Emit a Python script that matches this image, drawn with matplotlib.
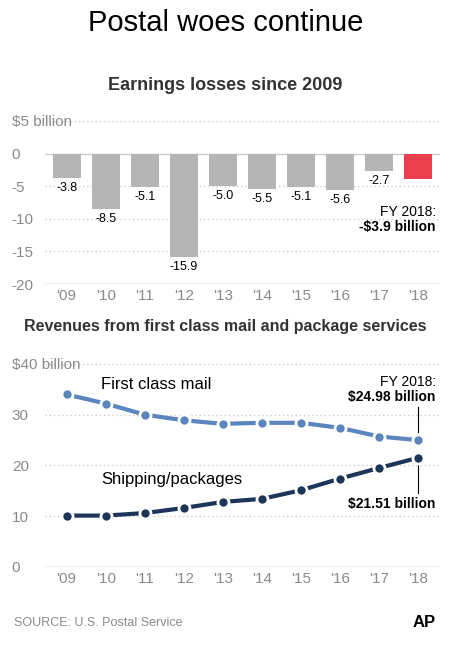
import matplotlib
matplotlib.use("Agg")
import matplotlib.pyplot as plt

plt.rcParams['font.family'] = ['Liberation Sans', 'DejaVu Sans']

years = ["'09", "'10", "'11", "'12", "'13", "'14", "'15", "'16", "'17", "'18"]
losses = [-3.8, -8.5, -5.1, -15.9, -5.0, -5.5, -5.1, -5.6, -2.7, -3.9]
first_class = [34.0, 32.2, 30.0, 28.9, 28.2, 28.4, 28.4, 27.4, 25.7, 24.98]
shipping = [10.1, 10.1, 10.6, 11.6, 12.8, 13.4, 15.1, 17.4, 19.5, 21.51]

GRAY = "#8a8a8a"
fig = plt.figure(figsize=(4.51, 6.5), dpi=100)
fig.text(0.5, 0.965, "Postal woes continue", ha="center", va="center", fontsize=21)
fig.text(0.5, 0.869, "Earnings losses since 2009", ha="center", va="center",
         fontsize=13, fontweight="bold", color="#333333")
fig.text(0.5, 0.497, "Revenues from first class mail and package services", ha="center",
         va="center", fontsize=11.5, fontweight="bold", color="#333333")
fig.text(0.03, 0.042, "SOURCE: U.S. Postal Service", ha="left", va="center", fontsize=9, color=GRAY)
fig.text(0.965, 0.042, "AP", ha="right", va="center", fontsize=12, fontweight="bold")

x = range(len(years))

# bar chart
ax = fig.add_axes([0.10, 0.563, 0.875, 0.251])
colors = ["#b5b5b5"] * (len(losses) - 1) + ["#e8404f"]
ax.bar(x, losses, width=0.72, color=colors, zorder=3)
for i, v in enumerate(losses[:-1]):
    ax.text(i, v - 0.6, f"{v:.1f}", ha="center", va="top", fontsize=9)
ax.text(9.45, -8.9, "FY 2018:", ha="right", va="center", fontsize=10)
ax.text(9.45, -11.2, "-$3.9 billion", ha="right", va="center", fontsize=10, fontweight="bold")
ax.set_ylim(-20, 5)
ax.set_xlim(-0.55, 9.55)
ax.set_yticks([5, 0, -5, -10, -15, -20])
ax.set_yticklabels(["$5 billion", "0", "-5", "-10", "-15", "-20"])
for t in [5, -5, -10, -15]:
    ax.axhline(t, color="#cccccc", lw=1, ls=(0, (1, 2)), zorder=1)
ax.axhline(0, color="#cccccc", lw=1, zorder=1)
ax.axhline(-20, color="#aaaaaa", lw=1, zorder=1)
ax.set_xticks(list(x))
ax.set_xticklabels(years)

# line chart
ax2 = fig.add_axes([0.10, 0.128, 0.875, 0.312])
ax2.plot(x, first_class, color="#5b85bf", lw=3, marker="o", ms=8,
         mec="white", mew=2, zorder=3)
ax2.plot(x, shipping, color="#1d3559", lw=3, marker="o", ms=8,
         mec="white", mew=2, zorder=3)
ax2.text(2.3, 35.9, "First class mail", ha="center", va="center", fontsize=12)
ax2.text(2.7, 17.3, "Shipping/packages", ha="center", va="center", fontsize=12)
ax2.text(9.45, 36.5, "FY 2018:", ha="right", va="center", fontsize=10)
ax2.text(9.45, 33.5, "$24.98 billion", ha="right", va="center", fontsize=10, fontweight="bold")
ax2.text(9.45, 12.3, "$21.51 billion", ha="right", va="center", fontsize=10, fontweight="bold")
ax2.plot([9, 9], [26.5, 31.5], color="black", lw=0.8)
ax2.plot([9, 9], [14.5, 20.0], color="black", lw=0.8)
ax2.set_ylim(0, 40)
ax2.set_xlim(-0.55, 9.55)
ax2.set_yticks([40, 30, 20, 10, 0])
ax2.set_yticklabels(["$40 billion", "30", "20", "10", "0"])
for t in [10, 20, 30, 40]:
    ax2.axhline(t, color="#cccccc", lw=1, ls=(0, (1, 2)), zorder=1)
ax2.axhline(0, color="#aaaaaa", lw=1, zorder=1)
ax2.set_xticks(list(x))
ax2.set_xticklabels(years)

for a in (ax, ax2):
    for s in a.spines.values():
        s.set_visible(False)
    a.tick_params(length=0, colors=GRAY, labelsize=11)
    for lab in a.get_yticklabels():
        lab.set_horizontalalignment("left")
    a.tick_params(axis="y", pad=24)
    a.set_clip_on(False)

fig.savefig("out.png", dpi=100)
